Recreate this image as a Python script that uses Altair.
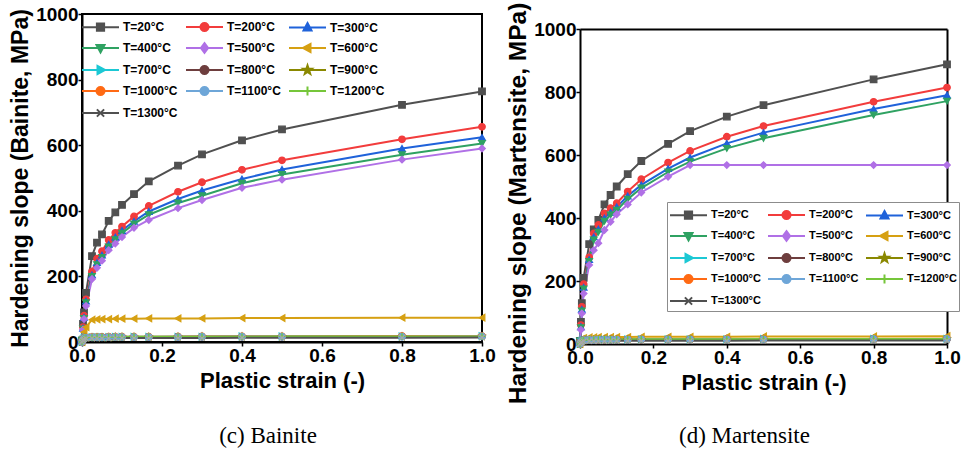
import math
import altair as alt
import pandas as pd

# ---------------- data ----------------
strain = [0, 0.0025, 0.005, 0.01, 0.025, 0.0375, 0.05, 0.0667, 0.0833, 0.1,
          0.13, 0.167, 0.24, 0.3, 0.4, 0.5, 0.8, 1.0]

temps = ["T=20°C", "T=200°C", "T=300°C", "T=400°C", "T=500°C", "T=600°C",
         "T=700°C", "T=800°C", "T=900°C", "T=1000°C", "T=1100°C", "T=1200°C",
         "T=1300°C"]

# Bainite (c)
bai_20 = [5, 55, 90, 150, 262, 303, 328, 369, 395, 418, 451, 490, 538, 572, 615, 648, 723, 764]
bai_200 = [5, 45, 80, 130, 215, 254, 277, 311, 333, 352, 383, 415, 458, 487, 525, 554, 618, 656]
bai_300 = [5, 42, 75, 125, 205, 242, 265, 298, 320, 340, 368, 398, 436, 462, 497, 526, 590, 624]
bai_400 = [5, 40, 72, 120, 200, 236, 258, 290, 312, 332, 360, 388, 424, 446, 484, 511, 571, 605]
bai_500 = [5, 38, 70, 110, 192, 226, 248, 280, 300, 320, 348, 372, 408, 433, 470, 495, 556, 590]
bai_600 = [0, 15, 30, 45, 68, 69, 70, 70, 71, 71, 71, 72, 72, 72, 73, 73, 74, 74]
bai_700 = [0, 8, 12, 14, 15, 15, 15, 15, 16, 16, 16, 16, 16, 16, 17, 17, 17, 18]
bai_800 = [0, 7, 11, 13, 14, 14, 15, 15, 15, 15, 15, 15, 16, 16, 16, 16, 17, 17]
bai_900 = [0, 7, 11, 13, 14, 14, 14, 14, 15, 15, 15, 15, 15, 16, 16, 16, 16, 17]
bai_1000 = [0, 8, 12, 14, 15, 15, 15, 16, 16, 16, 16, 16, 16, 17, 17, 17, 18, 18]
bai_1100 = [0, 7, 11, 13, 14, 14, 14, 15, 15, 15, 15, 15, 15, 16, 16, 16, 16, 17]
bai_1200 = [0, 8, 11, 13, 14, 15, 15, 15, 15, 15, 16, 16, 16, 16, 16, 17, 17, 17]
bai_1300 = [0, 5, 8, 10, 11, 11, 11, 11, 12, 12, 12, 12, 12, 12, 13, 13, 13, 14]

# Martensite (d)
mar_20 = [10, 70, 130, 210, 317, 364, 394, 443, 473, 500, 539, 581, 635, 676, 722, 758, 840, 888]
mar_200 = [10, 60, 118, 190, 275, 351, 378, 415, 431, 447, 484, 523, 576, 613, 658, 692, 769, 814]
mar_300 = [10, 55, 110, 180, 268, 340, 365, 400, 418, 435, 470, 505, 557, 592, 637, 671, 746, 790]
mar_400 = [10, 52, 105, 175, 262, 330, 355, 390, 410, 425, 460, 495, 546, 579, 621, 653, 727, 771]
mar_500 = [10, 45, 97, 160, 251, 298, 320, 362, 388, 412, 443, 481, 531, 568, 568, 568, 568, 568]
mar_600 = [0, 10, 16, 19, 21, 21, 22, 22, 22, 22, 22, 23, 23, 23, 23, 24, 24, 25]
mar_700 = [0, 6, 10, 12, 14, 14, 14, 14, 14, 14, 15, 15, 15, 15, 15, 16, 16, 16]
mar_800 = [0, 6, 9, 12, 13, 13, 14, 14, 14, 14, 14, 14, 15, 15, 15, 15, 16, 16]
mar_900 = [0, 6, 9, 11, 13, 13, 13, 14, 14, 14, 14, 14, 14, 15, 15, 15, 15, 16]
mar_1000 = [0, 6, 10, 12, 14, 14, 14, 14, 15, 15, 15, 15, 15, 15, 16, 16, 16, 17]
mar_1100 = [0, 6, 9, 12, 13, 13, 14, 14, 14, 14, 14, 15, 15, 15, 15, 15, 16, 16]
mar_1200 = [0, 6, 10, 12, 13, 14, 14, 14, 14, 14, 15, 15, 15, 15, 15, 16, 16, 16]
mar_1300 = [0, 4, 6, 8, 9, 9, 9, 9, 10, 10, 10, 10, 10, 10, 10, 11, 11, 11]

bainite = [bai_20, bai_200, bai_300, bai_400, bai_500, bai_600, bai_700,
           bai_800, bai_900, bai_1000, bai_1100, bai_1200, bai_1300]
martensite = [mar_20, mar_200, mar_300, mar_400, mar_500, mar_600, mar_700,
              mar_800, mar_900, mar_1000, mar_1100, mar_1200, mar_1300]

# ---------------- styles ----------------
line_colors = ["#505050", "#F23C3C", "#1F62DA", "#2FA262", "#B070E6", "#D6A012",
               "#1CC8D4", "#6E3E3E", "#8A8800", "#FF6A14", "#6EA6D8", "#76C63A",
               "#505050"]
marker_colors = line_colors[:12] + ["#A8A8A8"]

STAR = ("M0,-1L0.235,-0.324L0.951,-0.309L0.38,0.124L0.588,0.809L0,0.4"
        "L-0.588,0.809L-0.38,0.124L-0.951,-0.309L-0.235,-0.324Z")
PLUS = "M-1,0H1M0,-1V1"
XMARK = "M-0.8,-0.8L0.8,0.8M-0.8,0.8L0.8,-0.8"
shapes = ["square", "circle", "triangle-up", "triangle-down", "diamond",
          "triangle-left", "triangle-right", "circle", STAR, "circle",
          "circle", PLUS, XMARK]

# marker outlines in unit coordinates, used to build the legend symbols
_circle = [(math.cos(2 * math.pi * i / 16), math.sin(2 * math.pi * i / 16)) for i in range(16)]
_star = []
for i in range(10):
    r = 1.15 if i % 2 == 0 else 0.46
    a = -math.pi / 2 + i * math.pi / 5
    _star.append((r * math.cos(a), r * math.sin(a)))
marker_polys = [
    ([[(-0.9, -0.9), (0.9, -0.9), (0.9, 0.9), (-0.9, 0.9)]], True),
    ([_circle], True),
    ([[(0, -1.1), (1, 0.75), (-1, 0.75)]], True),
    ([[(0, 1.1), (1, -0.75), (-1, -0.75)]], True),
    ([[(0, -1.2), (0.9, 0), (0, 1.2), (-0.9, 0)]], True),
    ([[(-1.1, 0), (0.75, -1), (0.75, 1)]], True),
    ([[(1.1, 0), (-0.75, -1), (-0.75, 1)]], True),
    ([_circle], True),
    ([_star], True),
    ([_circle], True),
    ([_circle], True),
    ([[(-1.1, 0), (1.1, 0)], [(0, -1.1), (0, 1.1)]], False),
    ([[(-0.9, -0.9), (0.9, 0.9)], [(-0.9, 0.9), (0.9, -0.9)]], False),
]

LK, LDX = 0.4, 0.85     # marker scale and centre inside the legend symbol


def legend_symbol(polys, closed):
    p = "M-1,0H2.7"
    for poly in polys:
        pts = [f"{LDX + LK * x:.3f},{LK * y:.3f}" for x, y in poly]
        p += "M" + "L".join(pts) + ("Z" if closed else "")
    return p


legend_paths = [legend_symbol(polys, closed) for polys, closed in marker_polys]

FONT = "Liberation Sans"


def make_df(values):
    rows = []
    for t, vals in zip(temps, values):
        for s, v in zip(strain, vals):
            rows.append({"series": t, "strain": s, "slope": v})
    return pd.DataFrame(rows)


def panel(values, ytitle, y_range, lx, ly, boxed, label_size, row_pad, col_pad,
          ytitle_size, ytitle_y):
    df = make_df(values)
    base = alt.Chart(df)
    xscale = alt.Scale(domain=[0, 1], nice=False)
    if y_range is not None:
        yscale = alt.Scale(domain=[0, 1000], nice=False, range=y_range)
    else:
        yscale = alt.Scale(domain=[0, 1000], nice=False)
    x = alt.X("strain:Q", scale=xscale,
              axis=alt.Axis(values=[0, 0.2, 0.4, 0.6, 0.8, 1.0], format=".1f",
                            title="Plastic strain (-)", labelFlush=False,
                            labelPadding=0, titlePadding=5))
    y = alt.Y("slope:Q", scale=yscale,
              axis=alt.Axis(values=[0, 200, 400, 600, 800, 1000], format="d",
                            title=ytitle, labelPadding=0, titlePadding=3,
                            titleFontSize=ytitle_size, titleY=ytitle_y))
    xn = alt.X("strain:Q", scale=xscale, axis=None)
    yn = alt.Y("slope:Q", scale=yscale, axis=None)

    layers = [base.mark_line(strokeWidth=2).encode(
        x=x, y=y,
        color=alt.Color("series:N", sort=temps, scale=alt.Scale(range=line_colors), legend=None),
        order="strain:Q")]
    # one marker layer per series
    for t, shp, mc in zip(temps, shapes, marker_colors):
        layers.append(base.transform_filter(alt.datum.series == t).mark_point(
            filled=True, shape=shp, fill=mc, stroke=mc, size=42, strokeWidth=1.3,
            opacity=1).encode(x=xn, y=yn))
    # legend carrier (invisible marks): line + marker symbols per series
    legend = alt.Legend(
        title=None, orient="none", legendX=lx, legendY=ly, columns=3,
        direction="horizontal", symbolSize=400, symbolStrokeWidth=2,
        symbolOpacity=1, labelFont=FONT, labelFontSize=label_size,
        labelFontWeight="bold", labelColor="black", labelOffset=20,
        rowPadding=row_pad, columnPadding=col_pad, padding=2 if boxed else 0,
        strokeColor="#8C8C8C" if boxed else "transparent",
        fillColor="white" if boxed else "transparent")
    layers.append(base.transform_filter(alt.datum.strain == 0.5).mark_point(
        filled=True, opacity=0, size=400).encode(
        x=xn, y=yn,
        fill=alt.Fill("series:N", scale=alt.Scale(domain=temps, range=marker_colors), legend=legend),
        stroke=alt.Stroke("series:N", scale=alt.Scale(domain=temps, range=line_colors), legend=legend),
        shape=alt.Shape("series:N", scale=alt.Scale(domain=temps, range=legend_paths), legend=legend)))
    return base, xscale, yscale, layers


# left panel: plot box 400 x 328
_, _, _, lay1 = panel(bainite, "Hardening slope (Bainite, MPa)", None, -1, 2,
                      False, 12, 2, 4, 23, 164)
left = alt.layer(*lay1).resolve_axis(x="independent", y="independent").properties(
    width=400, height=328,
    title=alt.Title("(c) Bainite", orient="bottom", offset=34, dx=-14))

# right panel: group 330 tall, value axis drawn from 15 px below the top
RH = 330
base2, xs2, ys2, lay2 = panel(martensite, "Hardening slope (Martensite, MPa)",
                              [RH, 15], 87, 188, True, 11, 2, 3, 24.5, 189)
frame = base2.mark_point(opacity=0, size=1).encode(
    x=alt.X("strain:Q", scale=xs2,
            axis=alt.Axis(orient="top", labels=False, ticks=False, title=None,
                          offset=-15, domainWidth=2)),
    y=alt.Y("slope:Q", scale=ys2,
            axis=alt.Axis(orient="right", labels=False, ticks=False, title=None,
                          domainWidth=2)))
right = alt.layer(*lay2, frame).resolve_axis(x="independent", y="independent").properties(
    width=367, height=RH, view=alt.ViewBackground(stroke="transparent"),
    title=alt.Title("(d) Martensite", orient="bottom", offset=21, dx=-19))

chart = alt.hconcat(left, right, spacing=7).properties(
    padding={"left": 8, "top": 1, "right": 2, "bottom": 2}
).configure_view(
    stroke="black", strokeWidth=2
).configure_axis(
    labelFont=FONT, labelFontSize=19, labelFontWeight="bold", labelColor="black",
    titleFont=FONT, titleFontSize=22, titleFontWeight="bold", titleColor="black",
    domainColor="black", domainWidth=2, tickColor="black", tickWidth=1.5,
    tickSize=4, grid=False
).configure_title(
    font="Liberation Serif", fontSize=23, fontWeight="normal", color="black",
    anchor="middle"
).resolve_scale(fill="independent", stroke="independent", color="independent",
                shape="independent")

chart.save("out.html", embed_options={"renderer": "svg", "actions": False})
